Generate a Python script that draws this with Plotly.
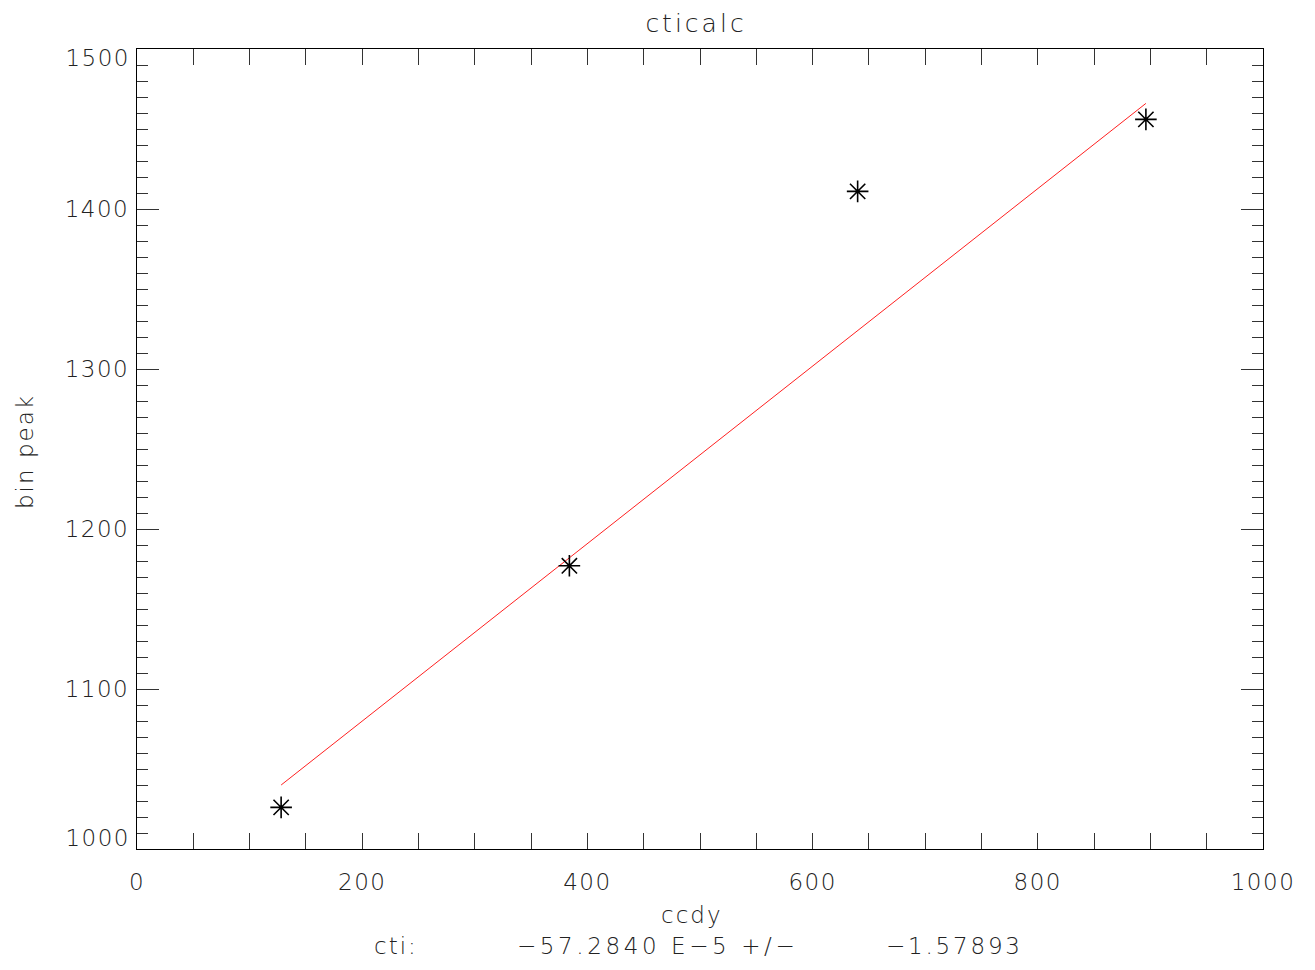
import plotly.graph_objects as go

# Data
ccdy = [128, 384, 640, 896]
bin_peak = [1026, 1177, 1411, 1456]
fit_x = [128, 896]
fit_y = [1040, 1466]

x_tickvals = [0, 200, 400, 600, 800, 1000]
y_tickvals_inner = [1100, 1200, 1300, 1400]
y_tick_top = [1500]
y_tick_bottom = [1000]

title_text = "cticalc"
x_label = "ccdy"
y_label = "bin peak"
cti_label = "cti:"
cti_value = "\u221257.2840 E\u22125 +/\u2212"
cti_err = "\u22121.57893"

FONT = "DejaVu Sans"
OFF = 8  # page body offset
Y_RANGE = [1000, 1500]


def spaced(s, px):
    return f"<span style='letter-spacing:{px}px'>{s}</span>"


fig = go.Figure()
fig.add_trace(go.Scatter(
    x=fit_x, y=fit_y, mode="lines",
    line=dict(color="#ff2020", width=1), showlegend=False, hoverinfo="skip"))
fig.add_trace(go.Scatter(
    x=ccdy, y=bin_peak, mode="markers",
    marker=dict(symbol="asterisk-open", size=18, color="black",
                line=dict(color="black", width=1.6)),
    showlegend=False))
# invisible helper traces so the end-label axes are drawn
fig.add_trace(go.Scatter(x=[None], y=[None], yaxis="y2", showlegend=False, hoverinfo="skip"))
fig.add_trace(go.Scatter(x=[None], y=[None], yaxis="y3", showlegend=False, hoverinfo="skip"))

tickfont = dict(family=FONT, size=23, color="#222", weight=200)
axis_common = dict(
    showgrid=False, zeroline=False, showline=True, linecolor="black", linewidth=1.3,
    mirror="allticks", ticks="inside", tickcolor="#333", tickwidth=1.3,
    tickfont=tickfont,
)
label_axis = dict(range=Y_RANGE, overlaying="y", side="left", showgrid=False,
                  zeroline=False, showline=False, ticks="", tickmode="array",
                  tickfont=tickfont, ticklabelstandoff=6)

fig.update_layout(
    width=1315, height=970,
    margin=dict(l=137 - OFF, r=52 + OFF, t=49 - OFF, b=121 + OFF),
    plot_bgcolor="white", paper_bgcolor="white",
    title=dict(text=spaced(title_text, 3), x=(696 - OFF) / 1315, xanchor="center",
               y=1 - (23 - OFF) / 970, yanchor="middle",
               font=dict(family=FONT, size=25, color="#222", weight=200)),
    xaxis=dict(range=[0, 1000], tickmode="array", tickvals=x_tickvals,
               ticktext=[spaced(v, 1.5) for v in x_tickvals],
               ticklen=16, ticklabelstandoff=12,
               minor=dict(ticks="inside", dtick=50, ticklen=8,
                          tickcolor="#333", tickwidth=1.3),
               **axis_common),
    yaxis=dict(range=Y_RANGE, tickmode="array",
               tickvals=y_tick_bottom + y_tickvals_inner + y_tick_top,
               ticktext=[""] + [spaced(v, 1.5) for v in y_tickvals_inner] + [""],
               ticklen=22, ticklabelstandoff=2,
               minor=dict(ticks="inside", dtick=10, ticklen=11,
                          tickcolor="#333", tickwidth=1.3),
               **axis_common),
    yaxis2=dict(tickvals=y_tick_top, ticktext=[spaced(v, 1.5) for v in y_tick_top],
                ticklabelshift=9, **label_axis),
    yaxis3=dict(tickvals=y_tick_bottom, ticktext=[spaced(v, 1.5) for v in y_tick_bottom],
                ticklabelshift=-11, **label_axis),
)

ann_font = dict(family=FONT, size=23, color="#222", weight=200)
fig.add_annotation(text=spaced(x_label, 2), xref="paper", yref="paper", x=(692 - 137) / 1126,
                   y=-(915 - 849) / 800, xanchor="center", yanchor="middle",
                   showarrow=False, font=ann_font)
fig.add_annotation(text=spaced(y_label, 2), xref="paper", yref="paper", x=-(137 - 25) / 1126,
                   y=(849 - 452) / 800, xanchor="center", yanchor="middle", textangle=-90,
                   showarrow=False, font=ann_font)
fig.add_annotation(text=spaced(cti_label, 2), xref="paper", yref="paper", x=(372 - 137) / 1126,
                   y=-(946 - 849) / 800, xanchor="left", yanchor="middle",
                   showarrow=False, font=ann_font)
fig.add_annotation(text=spaced(cti_value, 3.6), xref="paper", yref="paper", x=(515 - 137) / 1126,
                   y=-(946 - 849) / 800, xanchor="left", yanchor="middle",
                   showarrow=False, font=ann_font)
fig.add_annotation(text=spaced(cti_err, 2.8), xref="paper", yref="paper", x=(1025 - 137) / 1126,
                   y=-(946 - 849) / 800, xanchor="right", yanchor="middle",
                   showarrow=False, font=ann_font)

fig.write_html("out.html")
